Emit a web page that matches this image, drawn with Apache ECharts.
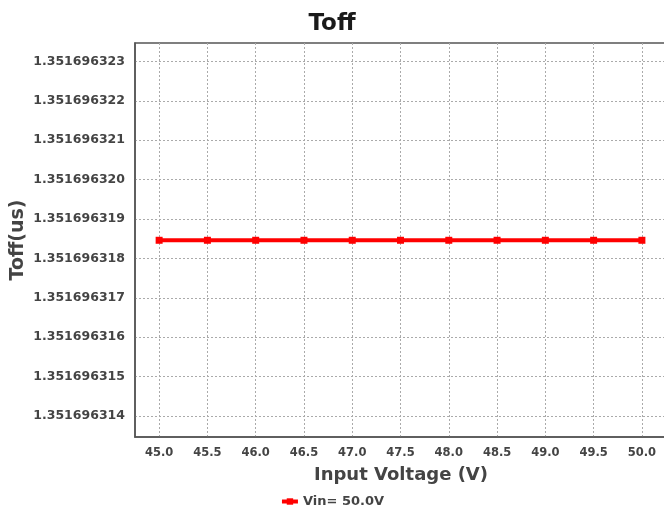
<!DOCTYPE html>
<html>
<head>
<meta charset="utf-8">
<script src="https://cdn.jsdelivr.net/npm/echarts@6/dist/echarts.min.js"></script>
<style>
  html, body { margin: 0; padding: 0; background: #fff; }
  #container { width: 664px; height: 515px; }
</style>
</head>
<body>
<div id="container"></div>
<script>
// input voltage sweep (V)
var vinValues = [45.0, 45.5, 46.0, 46.5, 47.0, 47.5, 48.0, 48.5, 49.0, 49.5, 50.0];
// Toff (us), flat over the sweep
var toffValues = [1.35169631846, 1.35169631846, 1.35169631846, 1.35169631846, 1.35169631846,
    1.35169631846, 1.35169631846, 1.35169631846, 1.35169631846, 1.35169631846, 1.35169631846];
// tick positions shown on the axes
var xTicks = [45.0, 45.5, 46.0, 46.5, 47.0, 47.5, 48.0, 48.5, 49.0, 49.5, 50.0];
var yTicks = [1.351696314, 1.351696315, 1.351696316, 1.351696317, 1.351696318,
    1.351696319, 1.351696320, 1.351696321, 1.351696322, 1.351696323];
var seriesName = 'Vin= 50.0V';

window.onload = function () {
    var dom = document.getElementById("container");
    var myChart = echarts.init(dom);
    var font = 'DejaVu Sans';
    var labelColor = '#444';
    var gridLine = { color: '#aaa', type: [2, 2], width: 1 };

    var points = vinValues.map(function (v, i) { return [v, toffValues[i]]; });

    var option = {
        animation: false,
        backgroundColor: '#fff',
        title: {
            text: 'Toff',
            left: 'center',
            top: 8,
            textStyle: { fontFamily: font, fontSize: 23, fontWeight: 'bold', color: '#1a1a1a' }
        },
        legend: {
            bottom: 2,
            left: 'center',
            itemWidth: 16,
            itemHeight: 8,
            lineStyle: { width: 4 },
            textStyle: { fontFamily: font, fontSize: 13, fontWeight: 'bold', color: labelColor },
            data: [seriesName]
        },
        grid: {
            left: 135,
            top: 43,
            right: -3,
            bottom: 78,
            show: true,
            borderColor: '#555',
            borderWidth: 1.5,
            containLabel: false,
            outerBoundsMode: 'none'
        },
        xAxis: {
            type: 'value',
            min: 44.75,
            max: 50.26,
            name: 'Input Voltage (V)',
            nameLocation: 'middle',
            nameGap: 29,
            nameMoveOverlap: false,
            nameTextStyle: { fontFamily: font, fontSize: 18, fontWeight: 'bold', color: labelColor },
            axisLine: { lineStyle: { color: '#555', width: 1.5 } },
            axisTick: { show: false, customValues: xTicks },
            axisLabel: {
                customValues: xTicks,
                margin: 10,
                fontFamily: font, fontSize: 11.5, fontWeight: 'bold', color: labelColor,
                formatter: function (v) { return v.toFixed(1); }
            },
            splitLine: { show: true, customValues: xTicks, lineStyle: gridLine }
        },
        yAxis: {
            type: 'value',
            min: 1.351696313467,
            max: 1.351696323467,
            name: 'Toff(us)',
            nameLocation: 'middle',
            nameGap: 107,
            nameMoveOverlap: false,
            nameTextStyle: { fontFamily: font, fontSize: 19, fontWeight: 'bold', color: labelColor },
            axisLine: { show: true, lineStyle: { color: '#555', width: 1.5 } },
            axisTick: { show: false, customValues: yTicks },
            axisLabel: {
                customValues: yTicks,
                margin: 10,
                fontFamily: font, fontSize: 12.5, fontWeight: 'bold', color: labelColor,
                formatter: function (v) { return v.toFixed(9); }
            },
            splitLine: { show: true, customValues: yTicks, lineStyle: gridLine }
        },
        series: [{
            name: seriesName,
            type: 'line',
            data: points,
            symbol: 'rect',
            symbolSize: 7,
            showAllSymbol: true,
            itemStyle: { color: '#ff0000' },
            lineStyle: { color: '#ff0000', width: 4 }
        }]
    };

    myChart.setOption(option);
};
</script>
</body>
</html>
